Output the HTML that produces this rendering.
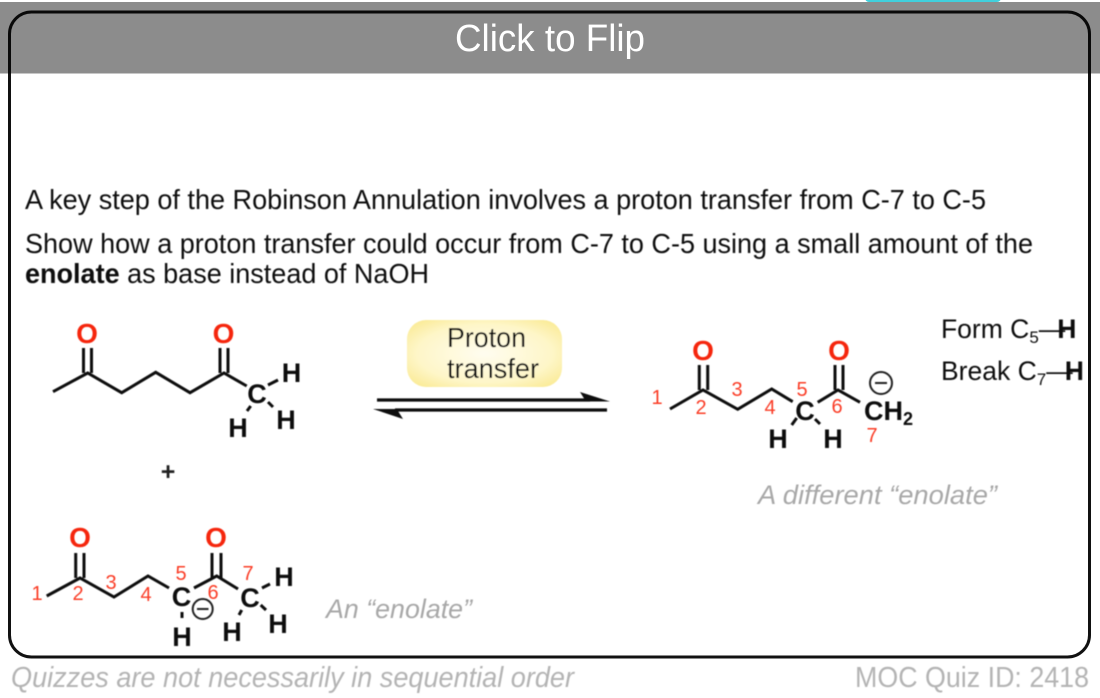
<!DOCTYPE html>
<html><head><meta charset="utf-8"><style>
html,body{margin:0;padding:0;background:#fff;width:1100px;height:698px;overflow:hidden}
svg{display:block}
text{font-family:"Liberation Sans",sans-serif}
.b{stroke:#111;stroke-width:3;fill:none;stroke-linecap:butt;stroke-linejoin:miter}
.o{fill:#f5260c;font-weight:bold;font-size:28px;text-anchor:middle}
.a{fill:#0a0a0a;font-weight:bold;font-size:27px;text-anchor:middle}
.n{fill:#fa3c28;font-size:20px;text-anchor:middle}
.t{fill:#111;font-size:27.5px}
.g{fill:#a8a8a8;font-size:27px;font-style:italic}
.f{fill:#b4b4b4;font-size:29px}
.m{stroke:#222;stroke-width:2;fill:none}
</style></head><body>
<svg width="1100" height="698" viewBox="0 0 1100 698" xmlns="http://www.w3.org/2000/svg">
<defs>
<radialGradient id="y" cx="50%" cy="50%" r="62%"><stop offset="0" stop-color="#fffdf0"/><stop offset=".7" stop-color="#fef6c8"/><stop offset="1" stop-color="#fbec9c"/></radialGradient>
<filter id="s" x="-5%" y="-5%" width="110%" height="110%"><feGaussianBlur stdDeviation="0.6"/></filter>
</defs>
<rect width="1100" height="698" fill="#fff"/>
<rect x="865" y="-8" width="136" height="10" rx="4" fill="#41d0dd"/>
<rect x="9.500" y="12" width="1080" height="645" rx="22" fill="#fff" stroke="#111" stroke-width="3"/>
<g filter="url(#s)">
<text class="t" x="25" y="209" textLength="961" lengthAdjust="spacingAndGlyphs">A key step of the Robinson Annulation involves a proton transfer from C-7 to C-5</text>
<text class="t" x="25" y="253" textLength="1008" lengthAdjust="spacingAndGlyphs">Show how a proton transfer could occur from C-7 to C-5 using a small amount of the</text>
<text class="t" x="25" y="283" textLength="404" lengthAdjust="spacingAndGlyphs"><tspan font-weight="bold">enolate</tspan> as base instead of NaOH</text>

<rect x="407" y="320" width="155" height="67" rx="19" fill="url(#y)"/>
<text class="t" x="447" y="347" textLength="79" lengthAdjust="spacingAndGlyphs">Proton</text>
<text class="t" x="447" y="378" textLength="92" lengthAdjust="spacingAndGlyphs">transfer</text>

<line x1="377" y1="400" x2="590" y2="400" stroke="#111" stroke-width="3.2"/>
<polygon points="610,401.500 580,392 585,400 585,401.500" fill="#111"/>
<line x1="607" y1="410" x2="395" y2="410" stroke="#111" stroke-width="3.2"/>
<polygon points="373,409 403,419 398,411 398,409" fill="#111"/>

<!-- molecule 1 -->
<polyline class="b" points="53,391.700 87.700,373 121.700,392.700 155.700,372.300 190,392.700 224,373 246.700,386"/>
<path class="b" d="M83.500,348V373M91.500,348V373M220,348V373M228,348V373"/>
<path class="b" d="M268,385L278,380M268,402L273,407M250.700,406L247,411"/>
<text class="o" x="87" y="343">O</text><text class="o" x="223.500" y="343">O</text>
<text class="a" x="257" y="403">C</text>
<text class="a" x="291.500" y="382">H</text><text class="a" x="286" y="429">H</text><text class="a" x="238" y="437">H</text>
<text x="168" y="480" style="font-size:25px;font-weight:bold;text-anchor:middle" fill="#222">+</text>

<!-- molecule 2 -->
<polyline class="b" points="46.700,596 80,578 114,597 148,576 169,588"/>
<polyline class="b" points="194,588 216.700,576 238,589"/>
<path class="b" d="M75.700,553V578M84,553V578M212,553V578M221,553V578"/>
<path class="b" d="M262,588L270,584M260.700,605L266,610M241.700,610L239,615M182,612V618"/>
<text class="o" x="80" y="547">O</text><text class="o" x="216" y="547">O</text>
<text class="a" x="181.500" y="606">C</text><text class="a" x="250" y="607">C</text>
<text class="a" x="284" y="586">H</text><text class="a" x="278" y="633">H</text><text class="a" x="232" y="641">H</text><text class="a" x="182" y="646">H</text>
<circle class="m" cx="202.700" cy="609" r="10"/><line class="m" x1="197" y1="609" x2="208.500" y2="609"/>
<text class="n" x="37" y="600">1</text><text class="n" x="78" y="600">2</text><text class="n" x="111" y="589">3</text><text class="n" x="146" y="601">4</text><text class="n" x="181" y="580">5</text><text class="n" x="213" y="599">6</text><text class="n" x="248" y="580">7</text>
<text class="g" x="326" y="618" textLength="146" lengthAdjust="spacingAndGlyphs">An “enolate”</text>

<!-- molecule 3 -->
<polyline class="b" points="670,409 703,390 737.700,409.300 771.700,389 792.700,401.700"/>
<polyline class="b" points="817.700,402.300 838,390 860,402.300"/>
<path class="b" d="M699.300,365V390M707.700,365V390M835,365V390M843,365V390"/>
<path class="b" d="M796.700,418L791.700,425M815,419L820,424"/>
<text class="o" x="703" y="360">O</text><text class="o" x="839" y="360">O</text>
<text class="a" x="805" y="420">C</text>
<text class="a" x="778" y="448">H</text><text class="a" x="833" y="448">H</text>
<text class="a" x="864" y="420" style="text-anchor:start">CH<tspan font-size="18" dy="5">2</tspan></text>
<circle class="m" cx="881" cy="383" r="11"/><line class="m" x1="875" y1="383" x2="887" y2="383"/>
<text class="n" x="657" y="404">1</text><text class="n" x="701" y="414">2</text><text class="n" x="737" y="396">3</text><text class="n" x="770" y="414">4</text><text class="n" x="802" y="396">5</text><text class="n" x="837" y="413">6</text><text class="n" x="872" y="442">7</text>
<text class="g" x="758" y="504" textLength="239" lengthAdjust="spacingAndGlyphs">A different “enolate”</text>

<text class="t" style="font-size:26.500px" x="941" y="338">Form C<tspan font-size="17" dy="5">5</tspan><tspan dy="-5">—</tspan><tspan font-weight="bold" dx="-8">H</tspan></text>
<text class="t" style="font-size:26.500px" x="941" y="380">Break C<tspan font-size="17" dy="5">7</tspan><tspan dy="-5">—</tspan><tspan font-weight="bold" dx="-8">H</tspan></text>

<text class="f" font-style="italic" x="11" y="687" textLength="563" lengthAdjust="spacingAndGlyphs">Quizzes are not necessarily in sequential order</text>
<text class="f" x="855" y="687" textLength="234" lengthAdjust="spacingAndGlyphs">MOC Quiz ID: 2418</text>
</g>
<rect x="0" y="2" width="1100" height="71.500" fill="#000" fill-opacity="0.45"/>
<text x="455" y="51" textLength="190" lengthAdjust="spacingAndGlyphs" style="font-size:38px" fill="#fff">Click to Flip</text>
</svg>
</body></html>
